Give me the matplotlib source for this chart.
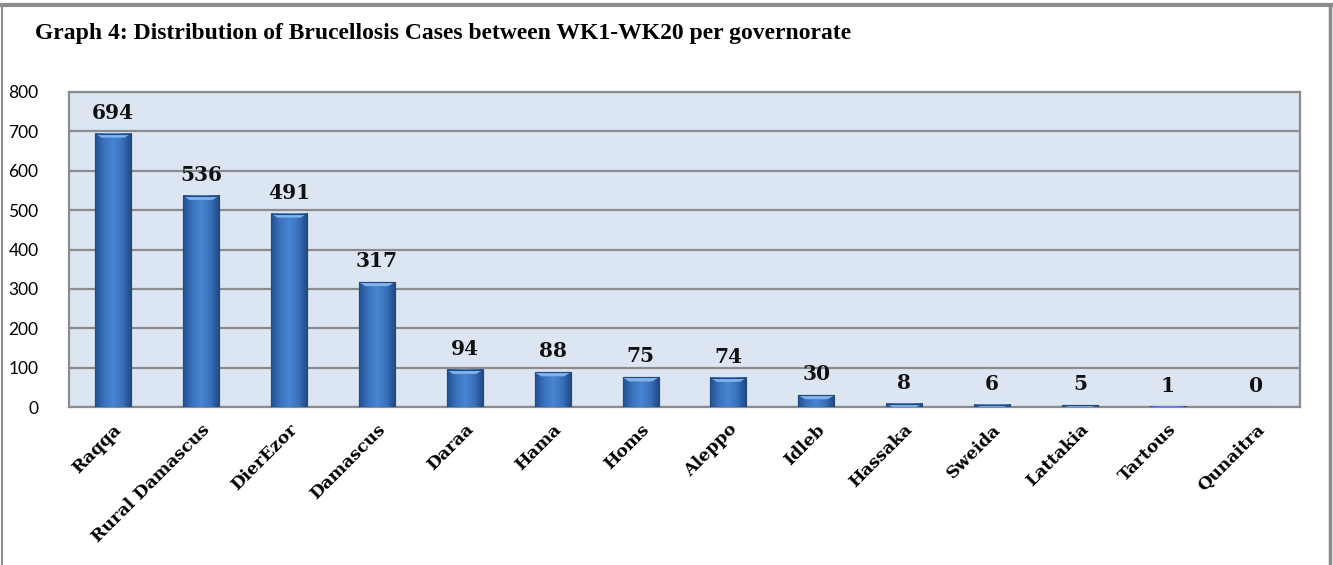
import matplotlib
matplotlib.use('Agg')
import matplotlib.pyplot as plt
import numpy as np
from matplotlib.lines import Line2D
from matplotlib.colors import LinearSegmentedColormap

governorates = ['Raqqa', 'Rural Damascus', 'DierEzor', 'Damascus', 'Daraa', 'Hama',
                'Homs', 'Aleppo', 'Idleb', 'Hassaka', 'Sweida', 'Lattakia', 'Tartous', 'Qunaitra']
cases = [694, 536, 491, 317, 94, 88, 75, 74, 30, 8, 6, 5, 1, 0]
yticks = [0, 100, 200, 300, 400, 500, 600, 700, 800]

TITLE = 'Graph 4: Distribution of Brucellosis Cases between WK1-WK20 per governorate'

fig = plt.figure(figsize=(13.33, 5.65), dpi=100)
ax = fig.add_axes([0.0518, 0.2796, 0.9234, 0.5576])
ax.set_facecolor('#DCE6F2')

x = np.arange(len(governorates))
bars = ax.bar(x, cases, width=0.41, color='#3B73BD', edgecolor='#23497F', linewidth=0.8, zorder=3)

# horizontal gradient inside each bar
grad_cmap = LinearSegmentedColormap.from_list('bar', ['#24508F', '#3A74C0', '#4A84D0', '#3870BA', '#1F467F'])
grad = np.linspace(0, 1, 64).reshape(1, -1)
for b in bars:
    h = b.get_height()
    if h <= 0:
        continue
    x0 = b.get_x()
    w = b.get_width()
    ax.imshow(grad, cmap=grad_cmap, aspect='auto', extent=(x0, x0 + w, 0, h), zorder=4)
    # light top bevel
    bev = min(h, 10)
    ax.fill([x0, x0 + w, x0 + w * 0.82, x0 + w * 0.18], [h, h, h - bev, h - bev],
            color='#7FB2EE', zorder=5, lw=0)
    ax.add_patch(plt.Rectangle((x0, 0), w, h, fill=False, edgecolor='#23497F', lw=0.8, zorder=6))

for xi, v in zip(x, cases):
    ax.annotate(str(v), (xi, v), xytext=(0, 8), textcoords='offset points',
                ha='center', va='bottom', fontsize=14.5, fontweight='bold',
                family='DejaVu Serif', color='#111111', zorder=7)

ax.set_xlim(-0.5, len(governorates) - 0.5)
ax.set_ylim(0, 800)
ax.set_yticks(yticks)
ax.set_yticklabels([str(t) for t in yticks], fontsize=12.5, family='Lato')
ax.set_xticks(x)
ax.set_xticklabels(governorates, rotation=45, ha='right', rotation_mode='anchor',
                   fontsize=12.5, fontweight='bold', family='DejaVu Serif')
ax.tick_params(axis='both', length=0)
ax.tick_params(axis='y', pad=22)
ax.tick_params(axis='x', pad=10)
ax.yaxis.grid(True, color='#8C8C8C', linewidth=1.6, zorder=1)
ax.set_axisbelow(True)
for s in ax.spines.values():
    s.set_color('#8C8C8C')
    s.set_linewidth(1.6)

fig.text(35 / 1333, 1 - 33 / 565, TITLE, fontsize=17, fontweight='bold',
         family='Liberation Serif', va='center', ha='left')

# outer frame lines
fig.add_artist(Line2D([0, 1], [1 - 5 / 565, 1 - 5 / 565], color='#8C8C8C', lw=3, transform=fig.transFigure))
fig.add_artist(Line2D([1.5 / 1333, 1.5 / 1333], [0, 1 - 5 / 565], color='#8C8C8C', lw=1.5, transform=fig.transFigure))
fig.add_artist(Line2D([1 - 3 / 1333, 1 - 3 / 1333], [0, 1 - 5 / 565], color='#8C8C8C', lw=2.5, transform=fig.transFigure))

fig.savefig('out.png', dpi=100)
